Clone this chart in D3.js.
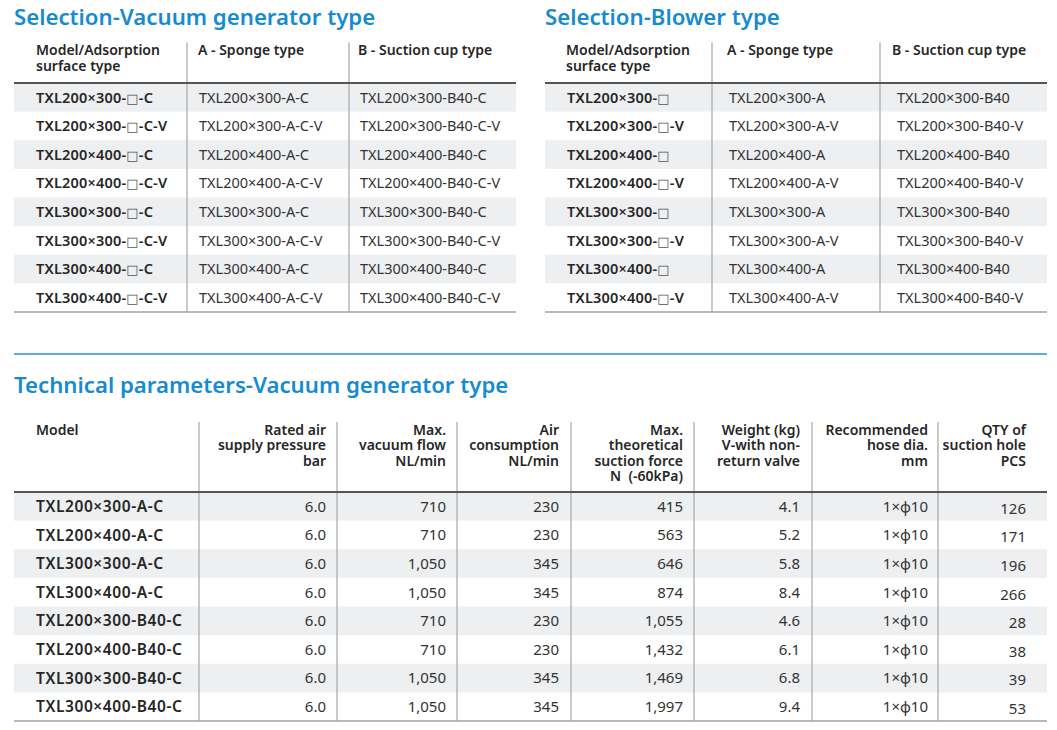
<!DOCTYPE html>
<html>
<head>
<meta charset="utf-8">
<script src="https://cdn.jsdelivr.net/npm/d3@7"></script>
<style>
  body { margin: 0; background: #fff; }
  svg { display: block; font-family: "Noto Sans", "Open Sans", sans-serif; }
</style>
</head>
<body>
<div id="chart"></div>
<script>
var width = 1057;
var height = 730;

// ---- data ----
var selHeader = [["Model/Adsorption", "surface type"], ["A - Sponge type"], ["B - Suction cup type"]];

var vacuumModels = ["TXL200×300-□-C", "TXL200×300-□-C-V", "TXL200×400-□-C", "TXL200×400-□-C-V",
  "TXL300×300-□-C", "TXL300×300-□-C-V", "TXL300×400-□-C", "TXL300×400-□-C-V"];
var vacuumSponge = ["TXL200×300-A-C", "TXL200×300-A-C-V", "TXL200×400-A-C", "TXL200×400-A-C-V",
  "TXL300×300-A-C", "TXL300×300-A-C-V", "TXL300×400-A-C", "TXL300×400-A-C-V"];
var vacuumCup = ["TXL200×300-B40-C", "TXL200×300-B40-C-V", "TXL200×400-B40-C", "TXL200×400-B40-C-V",
  "TXL300×300-B40-C", "TXL300×300-B40-C-V", "TXL300×400-B40-C", "TXL300×400-B40-C-V"];

var blowerModels = ["TXL200×300-□", "TXL200×300-□-V", "TXL200×400-□", "TXL200×400-□-V",
  "TXL300×300-□", "TXL300×300-□-V", "TXL300×400-□", "TXL300×400-□-V"];
var blowerSponge = ["TXL200×300-A", "TXL200×300-A-V", "TXL200×400-A", "TXL200×400-A-V",
  "TXL300×300-A", "TXL300×300-A-V", "TXL300×400-A", "TXL300×400-A-V"];
var blowerCup = ["TXL200×300-B40", "TXL200×300-B40-V", "TXL200×400-B40", "TXL200×400-B40-V",
  "TXL300×300-B40", "TXL300×300-B40-V", "TXL300×400-B40", "TXL300×400-B40-V"];

var techHeader = [["Model"], ["Rated air", "supply pressure", "bar"], ["Max.", "vacuum flow", "NL/min"],
  ["Air", "consumption", "NL/min"], ["Max.", "theoretical", "suction force", "N\u00a0\u00a0(-60kPa)"],
  ["Weight (kg)", "V-with non-", "return valve"], ["Recommended", "hose dia.", "mm"],
  ["QTY of", "suction hole", "PCS"]];
var techModels = ["TXL200×300-A-C", "TXL200×400-A-C", "TXL300×300-A-C", "TXL300×400-A-C",
  "TXL200×300-B40-C", "TXL200×400-B40-C", "TXL300×300-B40-C", "TXL300×400-B40-C"];
var ratedPressure = [6.0, 6.0, 6.0, 6.0, 6.0, 6.0, 6.0, 6.0];
var vacuumFlow = [710, 710, 1050, 1050, 710, 710, 1050, 1050];
var airConsumption = [230, 230, 345, 345, 230, 230, 345, 345];
var suctionForce = [415, 563, 646, 874, 1055, 1432, 1469, 1997];
var weightKg = [4.1, 5.2, 5.8, 8.4, 4.6, 6.1, 6.8, 9.4];
var hoseDia = ["1×ϕ10", "1×ϕ10", "1×ϕ10", "1×ϕ10", "1×ϕ10", "1×ϕ10", "1×ϕ10", "1×ϕ10"];
var holeQty = [126, 171, 196, 266, 28, 38, 39, 53];

var blue = "#178bcf";
var stripe = "#eeeff1";
var fmt1 = d3.format(".1f");
var fmtK = d3.format(",");

var svg = d3.select("#chart")
  .append("svg")
  .attr("width", width)
  .attr("height", height);

// writes a cell string, the open box drawn with a font that has a proper square
function fillCell(sel) {
  sel.each(function(d) {
    var t = d3.select(this);
    String(d).split("□").forEach(function(part, k) {
      if (k > 0) {
        t.append("tspan")
          .attr("font-family", "DejaVu Sans")
          .attr("font-weight", 400)
          .attr("font-size", "13px")
          .attr("fill", "#555")
          .text("□");
      }
      if (part) t.append("tspan").text(part);
    });
  });
}

// one table: columns given as x positions, rows through a band scale
function drawTable(opt) {
  var g = svg.append("g");
  var nRows = opt.columns[0].length;
  var yScale = d3.scaleBand()
    .domain(d3.range(nRows))
    .range([opt.headLine, opt.bottom]);

  // row stripes
  g.selectAll("rect.stripe")
    .data(d3.range(nRows).filter(function(i) { return i % 2 === 0; }))
    .enter()
    .append("rect")
    .attr("class", "stripe")
    .attr("x", opt.x0)
    .attr("width", opt.x1 - opt.x0)
    .attr("y", function(i) { return yScale(i); })
    .attr("height", yScale.bandwidth())
    .attr("fill", stripe);

  // vertical dividers
  g.selectAll("line.div")
    .data(opt.dividers)
    .enter()
    .append("line")
    .attr("x1", function(d) { return d; })
    .attr("x2", function(d) { return d; })
    .attr("y1", opt.top)
    .attr("y2", opt.bottom)
    .attr("stroke", "#a6a6a6")
    .attr("stroke-width", 1.2);

  // header
  opt.header.forEach(function(lines, c) {
    var t = g.append("text")
      .attr("x", opt.hx[c])
      .attr("y", opt.headBase)
      .attr("text-anchor", opt.anchor[c])
      .attr("font-size", "14px")
      .attr("font-weight", 600)
      .attr("fill", "#262626");
    lines.forEach(function(s, k) {
      t.append("tspan")
        .attr("x", opt.hx[c])
        .attr("dy", k === 0 ? 0 : opt.headLineH)
        .text(s);
    });
  });

  // cells
  opt.columns.forEach(function(col, c) {
    g.selectAll("text.c" + c)
      .data(col)
      .enter()
      .append("text")
      .attr("class", "c" + c)
      .attr("x", opt.cx[c])
      .attr("y", function(d, i) { return yScale(i) + yScale.bandwidth() / 2 + (opt.shift ? opt.shift[c] : 0); })
      .attr("dy", "0.36em")
      .attr("text-anchor", opt.anchor[c])
      .attr("font-size", c === 0 ? opt.firstSize : opt.cellSize)
      .attr("letter-spacing", c === 0 ? opt.firstSpacing : 0)
      .attr("font-weight", c === 0 ? 600 : 400)
      .attr("fill", c === 0 ? "#262626" : "#333")
      .call(fillCell);
  });

  // header rule and bottom rule
  g.append("line")
    .attr("x1", opt.x0).attr("x2", opt.x1)
    .attr("y1", opt.headLine).attr("y2", opt.headLine)
    .attr("stroke", "#555").attr("stroke-width", 2);
  g.append("line")
    .attr("x1", opt.x0).attr("x2", opt.x1)
    .attr("y1", opt.bottom).attr("y2", opt.bottom)
    .attr("stroke", "#a0a0a0").attr("stroke-width", 1.6);
}

function title(x, y, s) {
  svg.append("text")
    .attr("x", x)
    .attr("y", y)
    .attr("font-size", "22.2px")
    .attr("font-weight", 600)
    .attr("fill", blue)
    .text(s);
}

title(14, 25, "Selection-Vacuum generator type");
title(545, 25, "Selection-Blower type");

drawTable({
  x0: 14, x1: 516, top: 42.5, headLine: 83, bottom: 312,
  dividers: [187, 349],
  header: selHeader, headBase: 55, headLineH: 16,
  hx: [36, 198, 358], cx: [36, 199, 360], anchor: ["start", "start", "start"],
  cellSize: "14.5px", firstSize: "14.5px", firstSpacing: 0.2,
  columns: [vacuumModels, vacuumSponge, vacuumCup]
});

drawTable({
  x0: 545, x1: 1047, top: 42.5, headLine: 83, bottom: 312,
  dividers: [712, 880],
  header: selHeader, headBase: 55, headLineH: 16,
  hx: [566, 727, 892], cx: [567, 729, 897], anchor: ["start", "start", "start"],
  cellSize: "14.5px", firstSize: "14.5px", firstSpacing: 0.2,
  columns: [blowerModels, blowerSponge, blowerCup]
});

// blue separator
svg.append("line")
  .attr("x1", 14).attr("x2", 1047)
  .attr("y1", 354).attr("y2", 354)
  .attr("stroke", "#5aaede").attr("stroke-width", 2);

title(14, 393, "Technical parameters-Vacuum generator type");

var techRight = [326, 446, 559, 683, 800, 928, 1026];
drawTable({
  x0: 14, x1: 1047, top: 422, headLine: 492, bottom: 721,
  dividers: [199, 337, 457, 571, 694, 812, 938],
  header: techHeader, headBase: 435, headLineH: 15.3,
  hx: [36].concat(techRight), cx: [36].concat(techRight),
  anchor: ["start", "end", "end", "end", "end", "end", "end", "end"],
  shift: [0, 0, 0, 0, 0, 0, 0, 2],
  cellSize: "15px", firstSize: "15.5px", firstSpacing: 0.6,
  columns: [
    techModels,
    ratedPressure.map(fmt1),
    vacuumFlow.map(fmtK),
    airConsumption.map(fmtK),
    suctionForce.map(fmtK),
    weightKg.map(fmt1),
    hoseDia,
    holeQty.map(String)
  ]
});
</script>
</body>
</html>
